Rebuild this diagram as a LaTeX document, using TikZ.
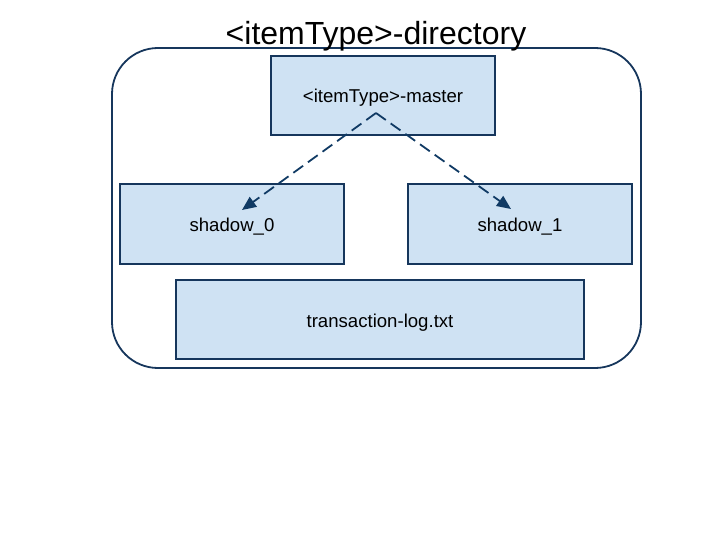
\documentclass[tikz,border=0pt]{standalone}
\usepackage{fontspec}
\setmainfont{Liberation Sans}
\usepackage{tikz}
\usetikzlibrary{arrows.meta,positioning}
\definecolor{dirLine}  {RGB}{22, 54, 92}
\definecolor{boxFill}  {RGB}{207,226,243}
\definecolor{arrowBlue}{RGB}{16, 58, 100}

\begin{document}
\begin{tikzpicture}[x=1pt,y=-1pt,
    filebox/.style={draw=dirLine,fill=boxFill,line width=1.4pt,
      minimum width=224pt,minimum height=79pt,inner sep=0pt,
      font=\fontsize{18.6}{22}\selectfont,
      text height=15pt,text depth=0pt},
    dashlink/.style={-{Triangle[length=14pt,width=12pt]},arrowBlue,
      line width=1.8pt,dash pattern=on 12pt off 6pt}]

    \useasboundingbox (0,0) rectangle (720,540);

    % ─── Diretorio externo ────────────────────────────────
    \draw[dirLine,line width=1.8pt,rounded corners=46pt]
      (112,48) rectangle (641,368);
    \node[font=\fontsize{32}{36}\selectfont] (dirTitle) at (376,36)
      {<itemType>-directory};

    % ─── Arquivos ─────────────────────────────────────────
    \node[filebox] (master) at (383,95.5) {<itemType>-master};
    \node[filebox,minimum height=80pt] (shadowA) at (232,224) {shadow\_0};
    \node[filebox,minimum height=80pt] (shadowB) at (520,224) {shadow\_1};
    \node[filebox,minimum width=408pt] (txnLog) at (380,319.5)
      {transaction-log.txt};

    % ─── Setas tracejadas ─────────────────────────────────
    \coordinate (fork)  at (376,113);
    \coordinate (tipA)  at (242,210);
    \coordinate (tipB)  at (511,209);
    \draw[dashlink] (fork) -- (tipA);
    \draw[dashlink] (fork) -- (tipB);

\end{tikzpicture}
\end{document}
